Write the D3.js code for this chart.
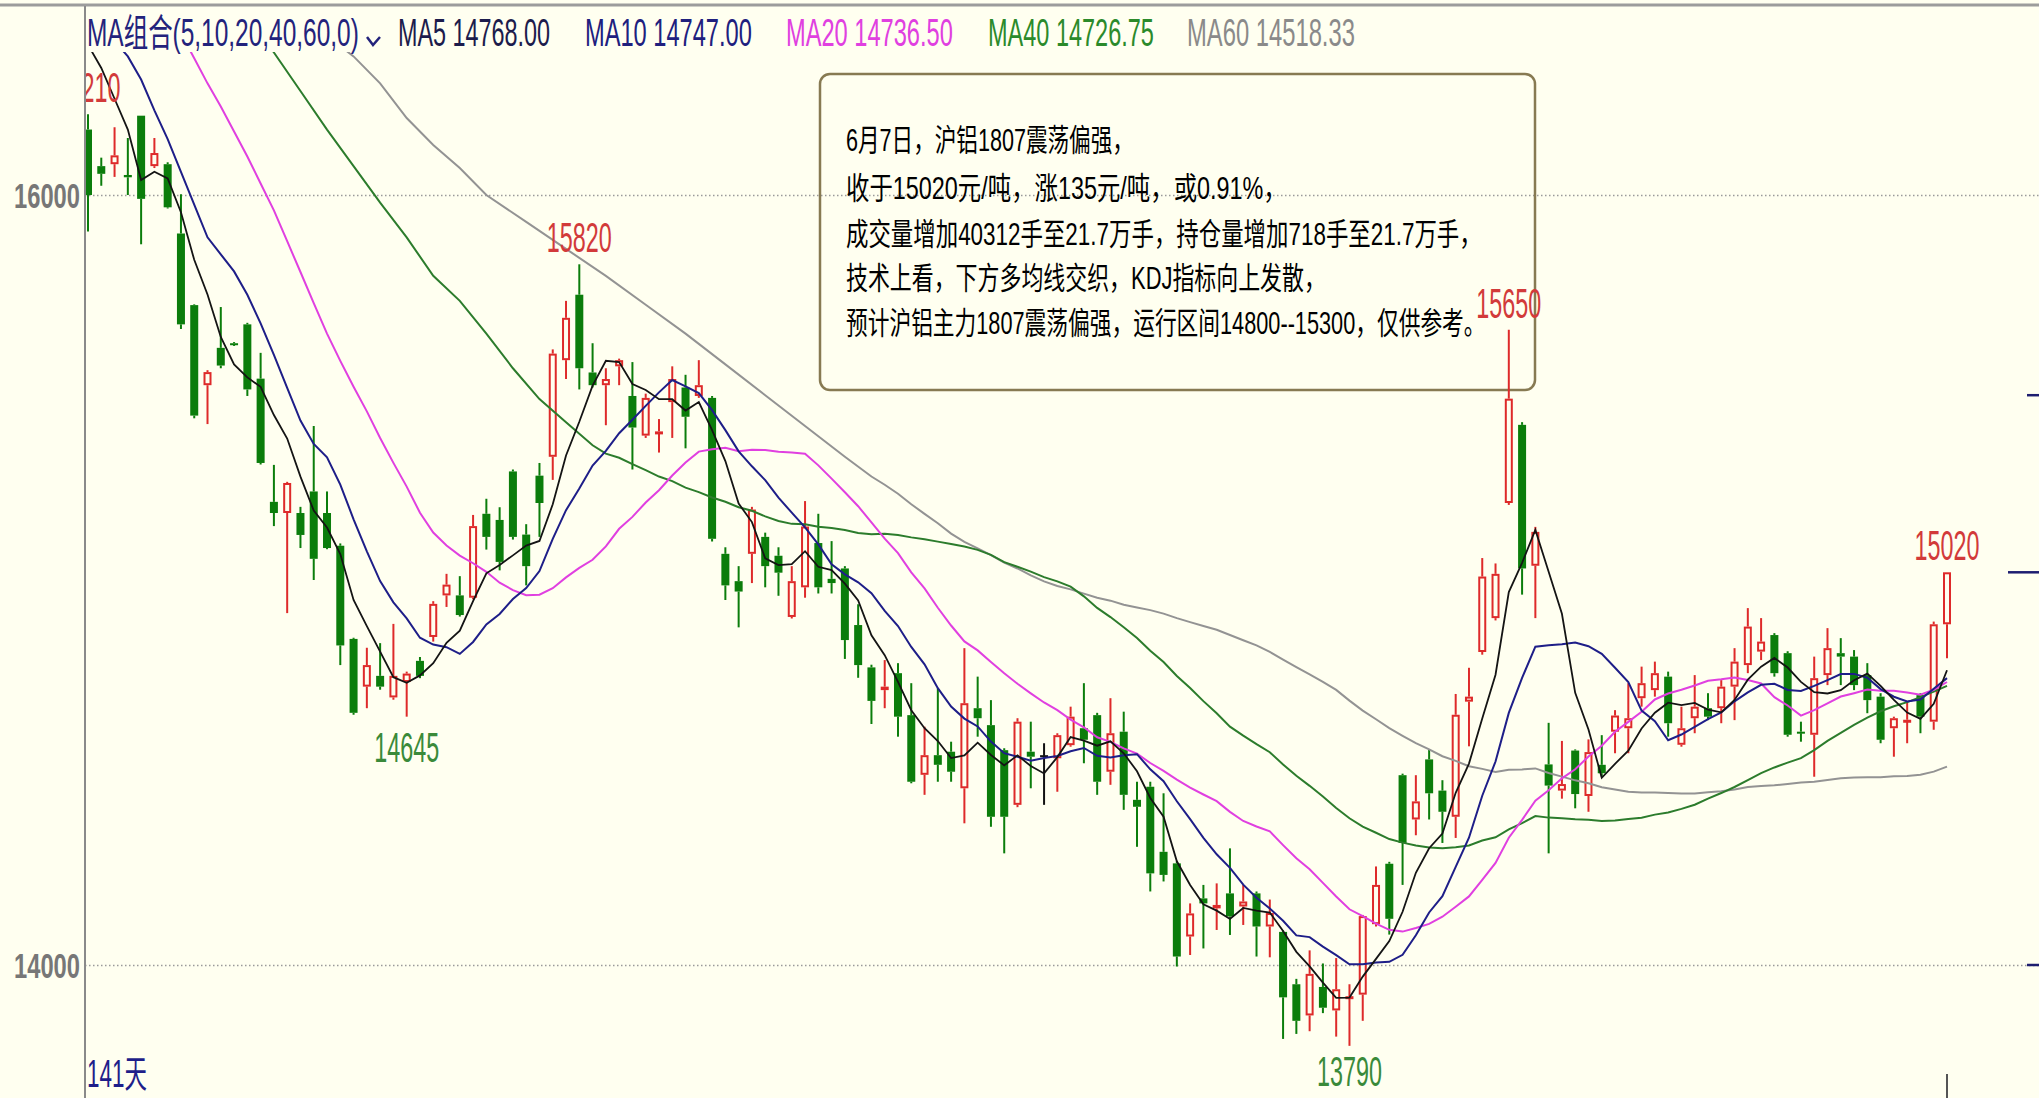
<!DOCTYPE html>
<html>
<head>
<meta charset="utf-8">
<title>沪铝1807 日K线</title>
<script src="https://cdn.jsdelivr.net/npm/d3@7/dist/d3.min.js"></script>
<style>
  html, body { margin: 0; padding: 0; background: #fffff0; overflow: hidden; }
  svg { display: block; }
  text { font-family: "Liberation Sans", "Noto Sans CJK SC", sans-serif; }
</style>
</head>
<body>
<script>
// daily bars, oldest first (141 days)
var opens = [16170,16075,16080,16052,16206,16075,16080,15900,15714,15506,
	15603,15615,15664,15523,15203,15174,15174,15230,15174,15089,
	14847,14723,14751,14695,14735,14790,14852,14960,14960,14954,
	15172,15156,15282,15118,15271,15320,15571,15741,15539,15506,
	15555,15478,15375,15380,15462,15500,15478,15473,15068,14997,
	15068,15112,15063,14904,14981,15096,15003,15030,14883,14773,
	14714,14758,14649,14494,14545,14554,14459,14667,14623,14558,
	14416,14554,14545,14537,14571,14615,14649,14502,14606,14429,
	14463,14294,14264,14074,14173,14147,14186,14152,14186,14100,
	14086,13950,13869,13943,13882,13913,13923,14106,14263,14493,
	14378,14534,14453,14385,14684,14813,14901,15200,15403,15037,
	14521,14453,14557,14439,14520,14606,14615,14693,14714,14749,
	14572,14641,14667,14667,14723,14779,14814,14857,14810,14606,
	14598,14753,14810,14801,14753,14697,14615,14632,14701,14632,
	14885];
var highs = [16210,16097,16176,16148,16206,16148,16085,16002,15716,15545,
	15709,15618,15668,15590,15299,15255,15190,15400,15230,15095,
	14850,14824,14836,14886,14762,14800,14945,15016,15010,15169,
	15211,15189,15287,15145,15304,15599,15725,15820,15615,15550,
	15575,15566,15484,15418,15555,15533,15571,15478,15085,15036,
	15190,15123,15085,15036,15205,15172,15101,15036,14937,14780,
	14792,14784,14732,14619,14719,14580,14823,14749,14688,14563,
	14641,14632,14576,14602,14671,14732,14655,14693,14658,14476,
	14476,14446,14270,14160,14208,14212,14303,14208,14191,14170,
	14090,13964,14038,14004,14018,13950,14130,14256,14268,14497,
	14493,14561,14480,14704,14772,15057,15043,15650,15410,15138,
	14629,14582,14560,14586,14597,14662,14732,14775,14788,14762,
	14671,14753,14706,14740,14823,14927,14901,14862,14815,14632,
	14801,14875,14849,14818,14784,14706,14645,14684,14706,14892,
	15020];
var lows = [15905,16024,16047,16000,15872,16070,15965,15652,15420,15405,
	15550,15608,15478,15300,15140,14914,15083,15000,15080,14779,
	14650,14667,14715,14689,14645,14745,14840,14930,14905,14950,
	15079,15025,15105,14986,15112,15260,15522,15495,15500,15402,
	15506,15287,15369,15331,15369,15342,15473,15100,14948,14877,
	14992,14981,14959,14900,14954,14965,14965,14795,14746,14626,
	14667,14593,14472,14442,14476,14476,14368,14593,14359,14290,
	14410,14459,14416,14450,14567,14524,14442,14468,14403,14307,
	14191,14217,13996,14026,14043,14091,14078,14104,14022,14020,
	13808,13821,13828,13875,13814,13790,13855,14100,14079,14208,
	14337,14378,14317,14330,14568,14806,14895,15195,14962,14901,
	14290,14432,14407,14398,14489,14550,14550,14671,14697,14593,
	14567,14602,14636,14628,14636,14758,14792,14749,14593,14580,
	14489,14727,14727,14714,14654,14576,14541,14576,14602,14611,
	14797];
var closes = [16000,16055,16103,16046,15990,16109,15968,15664,15427,15540,
	15557,15612,15495,15304,15174,15252,15117,15055,15083,14830,
	14655,14779,14723,14751,14757,14751,14938,14988,14909,15140,
	15112,15047,15112,15036,15200,15588,15681,15550,15506,15522,
	15571,15396,15473,15386,15522,15424,15506,15107,14986,14970,
	15183,15036,15019,14997,15139,14981,14992,14844,14779,14686,
	14723,14645,14476,14545,14520,14502,14680,14641,14385,14385,
	14632,14541,14545,14597,14645,14585,14476,14602,14442,14411,
	14238,14234,14022,14134,14160,14156,14126,14165,14100,14135,
	13916,13855,13977,13889,13937,13919,14127,14208,14120,14317,
	14425,14446,14398,14650,14697,15009,15016,15471,15030,15125,
	14466,14470,14444,14553,14498,14648,14641,14732,14758,14628,
	14615,14671,14645,14723,14788,14879,14840,14758,14598,14602,
	14745,14823,14801,14727,14688,14585,14641,14637,14645,14885,
	15020];

// moving average values before enough bars are on screen [day, value]
var ma5Lead = [[0,16390],[1,16330],[2,16250],[3,16170]];
var ma10Lead = [[2,16400],[3,16360],[4,16300],[5,16220],[6,16145],[7,16060],[8,15975]];
var ma20Lead = [[7,16420],[8,16355],[9,16290],[10,16230],[11,16165],[12,16100],[13,16030],
	[14,15960],[15,15880],[16,15800],[17,15719],[18,15640]];
var ma40Lead = [[12,16470],[14,16370],[16,16270],[18,16170],[20,16075],[22,15980],[24,15890],
	[26,15790],[28,15725],[30,15640],[32,15550],[34,15470],[36,15410],[38,15350]];
var ma60Lead = [[17,16440],[20,16360],[22,16290],[24,16200],[26,16130],[28,16070],[30,16000],
	[33,15930],[36,15860],[39,15790],[42,15715],[45,15640],[48,15560],[51,15480],
	[54,15400],[57,15320]];

var maPeriods = [5, 10, 20, 40, 60];
var maLegend = ["MA5 14768.00", "MA10 14747.00", "MA20 14736.50", "MA40 14726.75", "MA60 14518.33"];
var maTitle = "MA组合(5,10,20,40,60,0)";

var priceTicks = [14000, 16000];
var highMarks = [0, 37, 107, 140];
var lowMarks = [24, 95];
var rightMarks = [15480, 14000];

var noteLines = [
	"6月7日，沪铝1807震荡偏强，",
	"收于15020元/吨，涨135元/吨，或0.91%，",
	"成交量增加40312手至21.7万手，持仓量增加718手至21.7万手，",
	"技术上看，下方多均线交织，KDJ指标向上发散，",
	"预计沪铝主力1807震荡偏强，运行区间14800--15300，仅供参考。"
];

var width = 2039;
var height = 1098;
var bg = "#fffff0";
var upColor = "#de2a2a";
var downColor = "#0b7d0b";
var maColors = ["#141414", "#1e1e88", "#e040e0", "#2c7c2c", "#939393"];
var legendColors = ["#1c1c4c", "#20207e", "#e040e0", "#2b8a2b", "#8a8a8a"];

// squeeze a text horizontally to a given width (the source font is tall and narrow)
function fitWidth(sel, w) {
	sel.each(function(d, i) {
		var t = d3.select(this);
		var target = typeof w === "function" ? w(d, i) : w;
		var natural = this.getComputedTextLength();
		var tx = +t.attr("x") || 0, ty = +t.attr("y") || 0;
		t.attr("x", 0).attr("y", 0)
			.attr("transform", "translate(" + tx + "," + ty + ") scale(" + (target / natural) + ",1)");
	});
}

var svg = d3.select("body")
	.append("svg")
	.attr("width", width)
	.attr("height", height);

svg.append("rect")
	.attr("width", width)
	.attr("height", height)
	.attr("fill", bg);

var x = d3.scaleLinear().domain([0, closes.length - 1]).range([88, 1947]);
var y = d3.scaleLinear().domain([14000, 16000]).range([965, 195]);

svg.append("defs")
	.append("clipPath")
	.attr("id", "plot")
	.append("rect")
	.attr("x", 86)
	.attr("y", 52)
	.attr("width", width - 86)
	.attr("height", height - 52);

// dotted price grid
var grid = svg.append("g")
	.attr("transform", "translate(85,0)")
	.call(d3.axisLeft(y).tickValues(priceTicks).tickSize(-(width - 85)).tickFormat(""));
grid.select(".domain").remove();
grid.selectAll("line")
	.attr("stroke", "#9a9a9a")
	.attr("stroke-width", 1.5)
	.attr("stroke-dasharray", "1.5,2.5");

// price labels
var yAxis = svg.append("g")
	.attr("transform", "translate(80,0)")
	.call(d3.axisLeft(y).tickValues(priceTicks).tickSize(0).tickPadding(0).tickFormat(d3.format("d")));
yAxis.select(".domain").remove();
yAxis.selectAll("text")
	.attr("font-size", 36)
	.attr("font-weight", "bold")
	.attr("fill", "#777")
	.attr("dy", "0.36em")
	.call(fitWidth, 66);

// frame
svg.append("line")
	.attr("x1", 0).attr("x2", width)
	.attr("y1", 5).attr("y2", 5)
	.attr("stroke", "#9c9c9c")
	.attr("stroke-width", 3);
svg.append("line")
	.attr("x1", 85).attr("x2", 85)
	.attr("y1", 6).attr("y2", height)
	.attr("stroke", "#8a8a8a")
	.attr("stroke-width", 2);

// comment box
svg.append("rect")
	.attr("x", 820).attr("y", 74)
	.attr("width", 715).attr("height", 316)
	.attr("rx", 10)
	.attr("fill", "none")
	.attr("stroke", "#877a52")
	.attr("stroke-width", 2.5);

var noteY = [151, 199, 245, 289, 334];
var noteW = [288, 441, 636, 480, 640];
svg.append("g")
	.selectAll("text")
	.data(noteLines)
	.enter()
	.append("text")
	.attr("x", 846)
	.attr("y", function(d, i) { return noteY[i]; })
	.attr("font-family", "'Noto Sans CJK SC', sans-serif")
	.attr("font-size", 31)
	.attr("fill", "#000")
	.text(function(d) { return d; })
	.call(fitWidth, function(d, i) { return noteW[i]; });

var plot = svg.append("g").attr("clip-path", "url(#plot)");

// candles
var bars = d3.range(closes.length).map(function(i) {
	return { i: i, o: opens[i], h: highs[i], l: lows[i], c: closes[i] };
});
var bw = 8;

function barColor(d) {
	if (d.c > d.o) return upColor;
	if (d.c < d.o) return downColor;
	return "#111";
}

var candle = plot.append("g")
	.selectAll("g")
	.data(bars)
	.enter()
	.append("g");

// upper and lower shadows
candle.append("line")
	.attr("x1", function(d) { return x(d.i); })
	.attr("x2", function(d) { return x(d.i); })
	.attr("y1", function(d) { return y(d.h); })
	.attr("y2", function(d) { return y(Math.max(d.o, d.c)); })
	.attr("stroke", barColor)
	.attr("stroke-width", 2);
candle.append("line")
	.attr("x1", function(d) { return x(d.i); })
	.attr("x2", function(d) { return x(d.i); })
	.attr("y1", function(d) { return y(Math.min(d.o, d.c)); })
	.attr("y2", function(d) { return y(d.l); })
	.attr("stroke", barColor)
	.attr("stroke-width", 2);

candle.append("rect")
	.attr("x", function(d) { return x(d.i) - bw / 2 + (d.c > d.o ? 1 : 0); })
	.attr("y", function(d) { return y(Math.max(d.o, d.c)) + (d.c > d.o ? 1 : 0); })
	.attr("width", function(d) { return d.c > d.o ? bw - 2 : bw; })
	.attr("height", function(d) {
		var hh = y(Math.min(d.o, d.c)) - y(Math.max(d.o, d.c));
		return d.c > d.o ? Math.max(hh - 2, 1) : Math.max(hh, 2);
	})
	.attr("fill", function(d) { return d.c > d.o ? bg : barColor(d); })
	.attr("stroke", function(d) { return d.c > d.o ? upColor : "none"; })
	.attr("stroke-width", 2);

// moving averages
function movingAvg(n, lead) {
	var pts = lead.slice();
	for (var i = n - 1; i < closes.length; i++) {
		pts.push([i, d3.mean(closes.slice(i - n + 1, i + 1))]);
	}
	return pts;
}
var leads = [ma5Lead, ma10Lead, ma20Lead, ma40Lead, ma60Lead];
var maLine = d3.line()
	.x(function(d) { return x(d[0]); })
	.y(function(d) { return y(d[1]); });

for (var k = maPeriods.length - 1; k >= 0; k--) {
	plot.append("path")
		.datum(movingAvg(maPeriods[k], leads[k]))
		.attr("d", maLine)
		.attr("fill", "none")
		.attr("stroke", maColors[k])
		.attr("stroke-width", k == 0 ? 1.8 : 2);
}

// high / low marks
plot.append("g")
	.selectAll("text")
	.data(highMarks)
	.enter()
	.append("text")
	.attr("x", function(i) { return x(i); })
	.attr("y", function(i) { return y(highs[i]) - 12; })
	.attr("text-anchor", "middle")
	.attr("font-size", 42)
	.attr("fill", "#d23a3a")
	.text(function(i) { return highs[i]; })
	.call(fitWidth, 65);

plot.append("g")
	.selectAll("text")
	.data(lowMarks)
	.enter()
	.append("text")
	.attr("x", function(i) { return x(i); })
	.attr("y", function(i) { return Math.min(y(lows[i]) + 45, 1086); })
	.attr("text-anchor", "middle")
	.attr("font-size", 42)
	.attr("fill", "#3a8a3a")
	.text(function(i) { return lows[i]; })
	.call(fitWidth, 65);

// legend row
var legend = svg.append("g");
legend.append("text")
	.attr("x", 87).attr("y", 46)
	.attr("font-size", 38)
	.attr("fill", "#23237c")
	.text(maTitle)
	.call(fitWidth, 272);
legend.append("path")
	.attr("d", "M367,37 L373,45 L380,37")
	.attr("fill", "none")
	.attr("stroke", "#23237c")
	.attr("stroke-width", 2.5);

var legendX = [398, 585, 786, 988, 1187];
var legendW = [152, 167, 167, 166, 168];
legend.selectAll(".ma")
	.data(maLegend)
	.enter()
	.append("text")
	.attr("class", "ma")
	.attr("x", function(d, i) { return legendX[i]; })
	.attr("y", 46)
	.attr("font-size", 38)
	.attr("fill", function(d, i) { return legendColors[i]; })
	.text(function(d) { return d; })
	.call(fitWidth, function(d, i) { return legendW[i]; });

// right edge markers
svg.append("g")
	.selectAll("line")
	.data(rightMarks)
	.enter()
	.append("line")
	.attr("x1", 2027).attr("x2", width)
	.attr("y1", function(d) { return y(d); })
	.attr("y2", function(d) { return y(d); })
	.attr("stroke", "#1e1e70")
	.attr("stroke-width", 2.5);
svg.append("line")
	.attr("x1", 2008).attr("x2", width)
	.attr("y1", y(closes[closes.length - 1]))
	.attr("y2", y(closes[closes.length - 1]))
	.attr("stroke", "#1e1e70")
	.attr("stroke-width", 2.5);

// day count and cursor tick
svg.append("text")
	.attr("x", 87).attr("y", 1087)
	.attr("font-size", 38)
	.attr("fill", "#1e1e8a")
	.text(closes.length + "天")
	.call(fitWidth, 60);
svg.append("line")
	.attr("x1", x(closes.length - 1)).attr("x2", x(closes.length - 1))
	.attr("y1", 1074).attr("y2", height)
	.attr("stroke", "#555")
	.attr("stroke-width", 2);
</script>
</body>
</html>
